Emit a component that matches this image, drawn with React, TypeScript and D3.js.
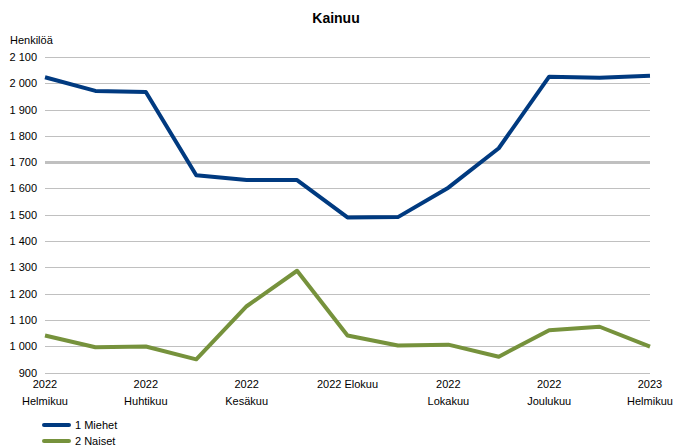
import * as d3 from "d3";
import { useEffect, useRef } from "react";

const months = [
  "2022 Helmikuu", "2022 Maaliskuu", "2022 Huhtikuu", "2022 Toukokuu",
  "2022 Kesäkuu", "2022 Heinäkuu", "2022 Elokuu", "2022 Syyskuu",
  "2022 Lokakuu", "2022 Marraskuu", "2022 Joulukuu", "2023 Tammikuu",
  "2023 Helmikuu",
];
const miehet = [2023, 1971, 1967, 1650, 1632, 1632, 1490, 1491, 1603, 1753, 2025, 2021, 2029];
const naiset = [1041, 996, 999, 950, 1152, 1287, 1041, 1003, 1006, 960, 1061, 1074, 998];
const yTicks = [900, 1000, 1100, 1200, 1300, 1400, 1500, 1600, 1700, 1800, 1900, 2000, 2100];
const seriesNames = ["1 Miehet", "2 Naiset"];
const colors = ["#003a80", "#76923c"];

// kaksirivinen nimike vain joka toiselle kuukaudelle
const twoLine = [true, false, true, false, true, false, false, false, true, false, true, false, true];

const App = () => {
  const ref = useRef<SVGSVGElement>(null);
  const width = 673;
  const height = 448;
  const margin = { top: 57, left: 45, right: 23, bottom: 76 };

  useEffect(() => {
    const svg = d3.select(ref.current);
    svg.selectAll("*").remove();
    const font = "'Liberation Sans', Arial, sans-serif";

    const x = d3.scalePoint<number>()
      .domain(d3.range(months.length))
      .range([margin.left, width - margin.right]);
    const y = d3.scaleLinear()
      .domain([900, 2100])
      .range([height - margin.bottom + 0.5, margin.top]);

    svg.append("text")
      .attr("x", 336).attr("y", 23)
      .attr("text-anchor", "middle")
      .style("font", `bold 14px ${font}`)
      .text("Kainuu");

    svg.append("text")
      .attr("x", 10).attr("y", 44)
      .style("font", `11px ${font}`)
      .text("Henkilöä");

    // ruudukko
    svg.append("g").selectAll("line").data(yTicks).enter().append("line")
      .attr("x1", margin.left).attr("x2", width - margin.right)
      .attr("y1", d => Math.round(y(d)) + 0.5).attr("y2", d => Math.round(y(d)) + 0.5)
      .style("stroke", "#c0c0c0")
      .style("stroke-width", d => d === 1700 ? 3 : 1);

    svg.append("g").selectAll("text").data(yTicks).enter().append("text")
      .attr("x", 37).attr("y", d => y(d) + 4)
      .attr("text-anchor", "end")
      .style("font", `11px ${font}`)
      .text(d => d3.format(",")(d).replace(",", " "));

    // x-akselin nimikkeet
    const labels = svg.append("g");
    months.forEach((m, i) => {
      if (i === 6) {
        labels.append("text")
          .attr("x", x(i)!).attr("y", 388)
          .attr("text-anchor", "middle")
          .style("font", `11px ${font}`)
          .text(m);
      } else if (twoLine[i]) {
        const [yr, mo] = m.split(" ");
        const t = labels.append("text")
          .attr("text-anchor", "middle")
          .style("font", `11px ${font}`);
        t.append("tspan").attr("x", x(i)!).attr("y", 388).text(yr);
        t.append("tspan").attr("x", x(i)!).attr("y", 405).text(mo);
      }
    });

    const line = d3.line<number>()
      .x((_, i) => x(i)!)
      .y(d => y(d));

    [miehet, naiset].forEach((s, k) => {
      svg.append("path")
        .datum(s)
        .attr("d", line)
        .style("fill", "none")
        .style("stroke", colors[k])
        .style("stroke-width", 4)
        .style("stroke-linejoin", "round");
    });

    // selite
    seriesNames.forEach((n, k) => {
      const yy = 425 + k * 16;
      svg.append("line")
        .attr("x1", 44).attr("x2", 69)
        .attr("y1", yy).attr("y2", yy)
        .style("stroke", colors[k])
        .style("stroke-width", 4)
        .style("stroke-linecap", "round");
      svg.append("text")
        .attr("x", 75).attr("y", yy + 4)
        .style("font", `11px ${font}`)
        .text(n);
    });
  }, []);

  return (
    <svg ref={ref} width={width} height={height}
      style={{ position: "absolute", left: 0, top: 0 }} />
  );
};

export default App;
